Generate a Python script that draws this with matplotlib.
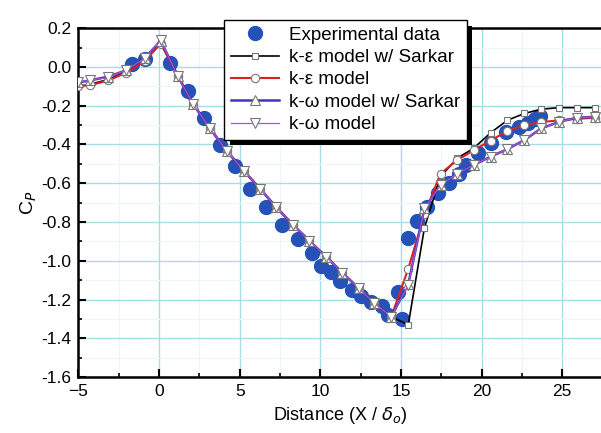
import numpy as np
import matplotlib
matplotlib.use('Agg')
import matplotlib.pyplot as plt
import matplotlib.patheffects as pe
from matplotlib.ticker import MultipleLocator

plt.rcParams['font.family'] = ['Liberation Sans', 'DejaVu Sans']

# experimental data
exp_x = [-1.7, -0.85, 0.7, 1.8, 2.8, 3.8, 4.7, 5.65, 6.6, 7.65, 8.6, 9.5,
         10.05, 10.65, 11.2, 11.95, 12.5, 13.15, 13.85, 14.2, 14.8, 15.05,
         15.45, 16.0, 16.6, 17.3, 17.95, 18.6, 19.0, 19.8, 20.55, 21.5,
         22.3, 22.85, 23.3, 23.6]
exp_cp = [0.015, 0.04, 0.02, -0.125, -0.265, -0.405, -0.51, -0.63, -0.72,
          -0.815, -0.89, -0.96, -1.025, -1.056, -1.105, -1.15, -1.18, -1.215,
          -1.235, -1.28, -1.16, -1.30, -0.88, -0.795, -0.72, -0.65, -0.60,
          -0.55, -0.506, -0.446, -0.394, -0.335, -0.31, -0.29, -0.27, -0.255]

# model x stations
mx = [-5.0, -4.3, -3.15, -2.05, -0.9, 0.1, 1.15, 2.1, 3.15, 4.2, 5.25, 6.27,
      7.27, 8.3, 9.3, 10.37, 11.35, 12.38, 13.35, 14.4, 15.45, 16.45, 17.45,
      18.5, 19.5, 20.55, 21.6, 22.65, 23.7, 24.8, 25.9, 27.0]

ke_sarkar = [-0.10, -0.09, -0.065, -0.025, 0.035, 0.125, -0.045, -0.19,
             -0.317, -0.434, -0.535, -0.63, -0.724, -0.815, -0.896, -0.98,
             -1.061, -1.142, -1.219, -1.288, -1.33, -0.83, -0.565, -0.47,
             -0.42, -0.34, -0.275, -0.24, -0.218, -0.21, -0.21, -0.21]
ke_model = [-0.10, -0.095, -0.07, -0.03, 0.03, 0.12, -0.045, -0.19, -0.317,
            -0.434, -0.535, -0.63, -0.724, -0.815, -0.896, -0.98, -1.061,
            -1.142, -1.219, -1.288, -1.04, -0.76, -0.55, -0.48, -0.43, -0.38,
            -0.33, -0.30, -0.285, -0.275, -0.268, -0.262]
kw_sarkar = [-0.08, -0.07, -0.05, -0.018, 0.045, 0.135, -0.045, -0.19,
             -0.317, -0.434, -0.535, -0.63, -0.724, -0.815, -0.896, -0.98,
             -1.061, -1.142, -1.219, -1.288, -1.12, -0.73, -0.61, -0.55,
             -0.506, -0.463, -0.424, -0.377, -0.317, -0.283, -0.262, -0.257]
kw_model = [-0.08, -0.068, -0.054, -0.016, 0.044, 0.138, -0.047, -0.19,
            -0.317, -0.434, -0.535, -0.63, -0.724, -0.815, -0.896, -0.98,
            -1.061, -1.142, -1.219, -1.288, -1.125, -0.73, -0.61, -0.55,
            -0.506, -0.463, -0.424, -0.377, -0.317, -0.283, -0.262, -0.257]

fig = plt.figure(figsize=(6.01, 4.33), dpi=100)
ax = fig.add_axes([0.1306, 0.129, 0.8694, 0.806])

ax.grid(True, which='major', color='#a8dde6', lw=1.0, zorder=0)
ax.grid(True, which='minor', color='#eaf6f8', lw=0.8, zorder=0)
ax.set_axisbelow(True)

ax.plot(exp_x, exp_cp, 'o', color='#2552b8', ms=10, mec='#2552b8',
        label='Experimental data', zorder=3)
ax.plot(mx, ke_sarkar, '-s', color='black', lw=1.2, ms=5, mfc='white',
        mec='#777777', mew=0.8, label='k-ε model w/ Sarkar', zorder=4)
ax.plot(mx, ke_model, '-o', color='#e02020', lw=1.5, ms=6, mfc='white',
        mec='#777777', mew=0.8, label='k-ε model', zorder=4)
ax.plot(mx, kw_sarkar, '-^', color='#3a3ab8', lw=1.8, ms=7, mfc='white',
        mec='#777777', mew=0.8, label='k-ω model w/ Sarkar', zorder=5)
ax.plot(mx, kw_model, '-v', color='#b050d0', lw=0.9, ms=7, mfc='white',
        mec='#777777', mew=0.8, label='k-ω model', zorder=6)

ax.set_xlim(-5, 27.4)
ax.set_ylim(-1.6, 0.2)
ax.xaxis.set_major_locator(MultipleLocator(5))
ax.xaxis.set_minor_locator(MultipleLocator(2.5))
ax.yaxis.set_major_locator(MultipleLocator(0.2))
ax.yaxis.set_minor_locator(MultipleLocator(0.1))
ax.yaxis.set_major_formatter(matplotlib.ticker.FormatStrFormatter('%.1f'))
ax.tick_params(which='major', direction='in', length=6, width=1.5,
               labelsize=12.5, pad=5)
ax.tick_params(which='minor', direction='in', length=3, width=1.2)
for side in ['left', 'bottom', 'top']:
    ax.spines[side].set_linewidth(1.8)
ax.spines['right'].set_visible(False)

ax.set_xlabel(r'Distance (X / $\delta_o$)', fontsize=13, labelpad=4)
ax.set_ylabel(r'C$_P$', fontsize=14, labelpad=2)

leg = ax.legend(loc='upper left', bbox_to_anchor=(224 / 601, 1 - 20 / 433),
                bbox_transform=fig.transFigure, fontsize=13.5,
                fancybox=False, framealpha=1, edgecolor='black',
                handlelength=2.6, labelspacing=0.28, borderpad=0.35,
                handletextpad=0.5, borderaxespad=0)
frame = leg.get_frame()
frame.set_linewidth(1.0)
frame.set_path_effects([pe.SimplePatchShadow(offset=(4, -4),
                                             shadow_rgbFace='black', alpha=1),
                        pe.Normal()])
leg.set_zorder(10)

fig.savefig('out.png', dpi=100)
